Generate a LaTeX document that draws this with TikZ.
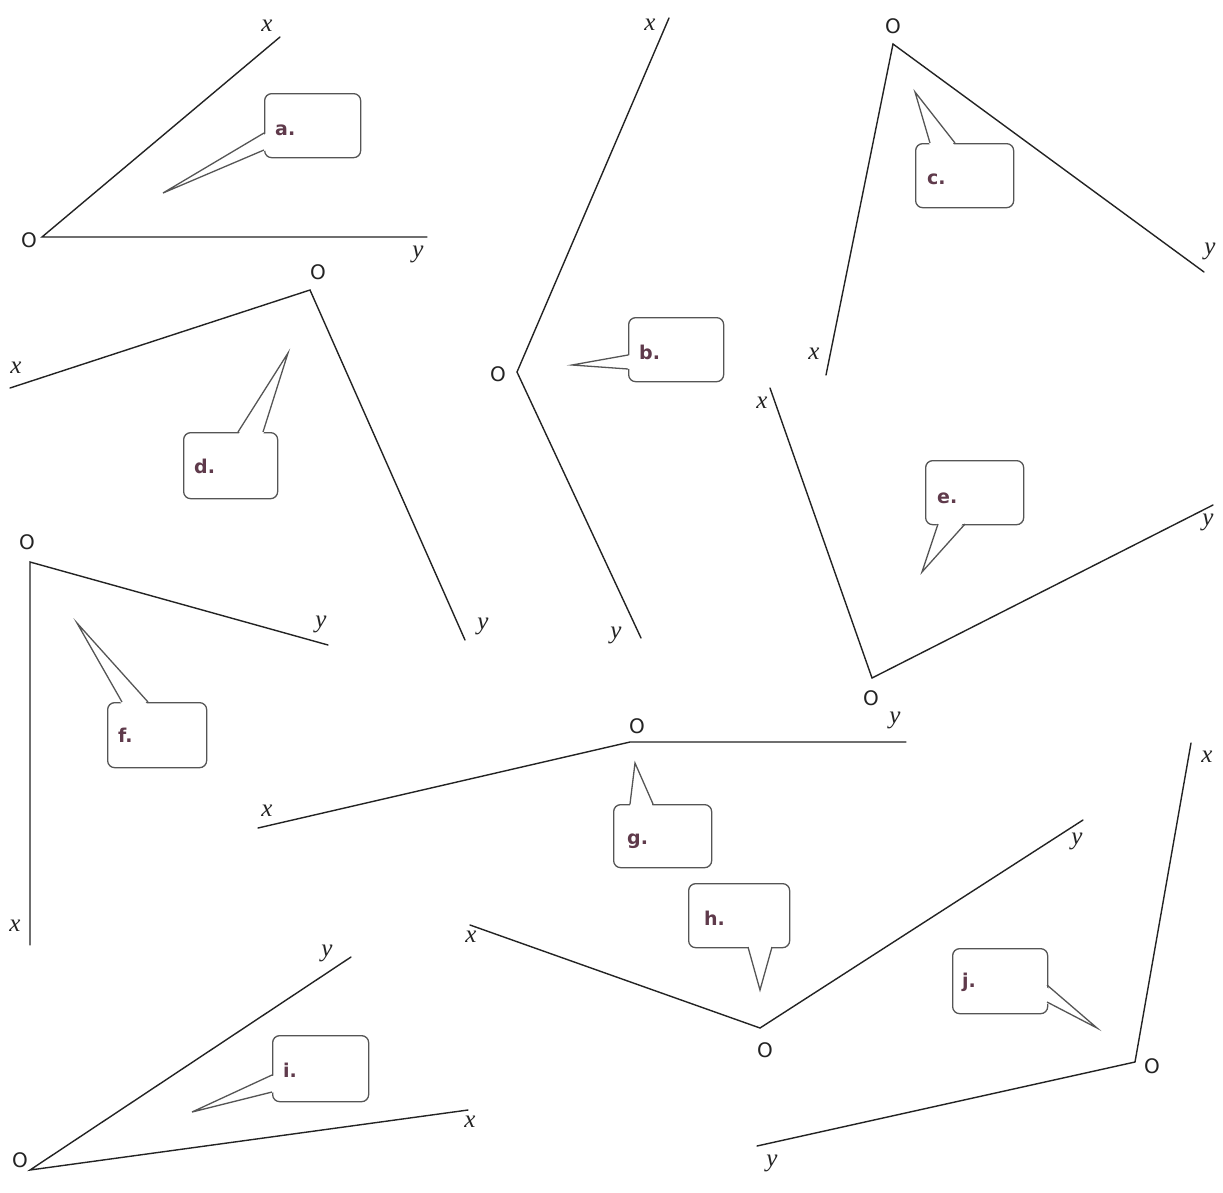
\documentclass[tikz,border=0pt]{standalone}
\usepackage{fontspec}
\setmainfont{Liberation Serif}
\newfontfamily\osans{DejaVu Sans}
\definecolor{lblcol}{RGB}{95,58,75}
\definecolor{raycol}{RGB}{35,35,35}
\definecolor{boxcol}{RGB}{85,85,85}
\tikzset{
  ray/.style={draw=raycol, line width=1.4pt, line cap=round},
  cbox/.style={draw=boxcol, line width=1.3pt, rounded corners=7pt, fill=white, inner sep=0pt, anchor=north west},
  ptr/.style={draw=boxcol, line width=1.3pt, line join=miter},
  olbl/.style={font=\osans\fontsize{20}{20}\selectfont, inner sep=0pt, text=raycol},
  vlbl/.style={font=\itshape\fontsize{25}{25}\selectfont, inner sep=0pt, text=raycol},
  clbl/.style={font=\osans\bfseries\fontsize{19}{19}\selectfont, text=lblcol, inner sep=0pt, anchor=base west}
}
\begin{document}
\begin{tikzpicture}[x=1pt,y=-1pt]
\useasboundingbox[fill=white] (0,0) rectangle (1223,1192);

% ---------- angles ----------
% a
\coordinate (va) at (42,237); \coordinate (xa) at (280,37); \coordinate (ya) at (427,237);
\draw[ray] (xa) -- (va) -- (ya);
\node[olbl] (Oa) at (29,240) {O};
\node[vlbl] (xla) at (267,26) {x};
\node[vlbl] (yla) at (418,254) {y};
% b
\coordinate (vb) at (517,372); \coordinate (xb) at (669,18); \coordinate (yb) at (641,638);
\draw[ray] (xb) -- (vb) -- (yb);
\node[olbl] (Ob) at (498,374) {O};
\node[vlbl] (xlb) at (650,25) {x};
\node[vlbl] (ylb) at (616,635) {y};
% c
\coordinate (vc) at (893,44); \coordinate (xc) at (826,375); \coordinate (yc) at (1204,272);
\draw[ray] (xc) -- (vc) -- (yc);
\node[olbl] (Oc) at (893,26) {O};
\node[vlbl] (xlc) at (814,354) {x};
\node[vlbl] (ylc) at (1210,251) {y};
% d
\coordinate (vd) at (310,290); \coordinate (xd) at (10,388); \coordinate (yd) at (465,640);
\draw[ray] (xd) -- (vd) -- (yd);
\node[olbl] (Od) at (318,272) {O};
\node[vlbl] (xld) at (16,368) {x};
\node[vlbl] (yld) at (483,626) {y};
% e
\coordinate (ve) at (872,678); \coordinate (xe) at (770,388); \coordinate (ye) at (1213,505);
\draw[ray] (xe) -- (ve) -- (ye);
\node[olbl] (Oe) at (871,698) {O};
\node[vlbl] (xle) at (762,403) {x};
\node[vlbl] (yle) at (1208,522) {y};
% f
\coordinate (vf) at (30,562); \coordinate (xf) at (30,945); \coordinate (yf) at (328,645);
\draw[ray] (xf) -- (vf) -- (yf);
\node[olbl] (Of) at (27,542) {O};
\node[vlbl] (xlf) at (15,926) {x};
\node[vlbl] (ylf) at (321,624) {y};
% g
\coordinate (vg) at (630,742); \coordinate (xg) at (258,828); \coordinate (yg) at (906,742);
\draw[ray] (xg) -- (vg) -- (yg);
\node[olbl] (Og) at (637,726) {O};
\node[vlbl] (xlg) at (267,811) {x};
\node[vlbl] (ylg) at (895,720) {y};
% h
\coordinate (vh) at (760,1028); \coordinate (xh) at (470,925); \coordinate (yh) at (1083,820);
\draw[ray] (xh) -- (vh) -- (yh);
\node[olbl] (Oh) at (765,1050) {O};
\node[vlbl] (xlh) at (471,937) {x};
\node[vlbl] (ylh) at (1077,841) {y};
% i
\coordinate (vi) at (30,1170); \coordinate (yi) at (351,957); \coordinate (xi) at (468,1110);
\draw[ray] (yi) -- (vi) -- (xi);
\node[olbl] (Oi) at (20,1160) {O};
\node[vlbl] (yli) at (327,953) {y};
\node[vlbl] (xli) at (470,1122) {x};
% j
\coordinate (vj) at (1135,1062); \coordinate (xj) at (1191,743); \coordinate (yj) at (757,1146);
\draw[ray] (xj) -- (vj) -- (yj);
\node[olbl] (Oj) at (1152,1066) {O};
\node[vlbl] (xlj) at (1207,757) {x};
\node[vlbl] (ylj) at (772,1163) {y};

% ---------- callouts ----------
% a
\node[cbox, minimum width=96pt, minimum height=64pt] (ba) at (264,93) {};
\coordinate (ta) at (163,193);
\fill[white] (267,133) -- (ta) -- (267,150) -- cycle;
\draw[ptr] (264,133) -- (ta) -- (264,150);
\node[clbl] (la) at (275,135) {a.};
% b
\node[cbox, minimum width=95pt, minimum height=64pt] (bb) at (628,317) {};
\coordinate (tb) at (572,365);
\fill[white] (631,355) -- (tb) -- (631,369) -- cycle;
\draw[ptr] (628,355) -- (tb) -- (628,369);
\node[clbl] (lb) at (639,359) {b.};
% c
\node[cbox, minimum width=98pt, minimum height=64pt] (bc) at (915,143) {};
\coordinate (tc) at (915,92);
\fill[white] (930,146) -- (tc) -- (955,146) -- cycle;
\draw[ptr] (930,143) -- (tc) -- (955,143);
\node[clbl] (lc) at (927,184) {c.};
% d
\node[cbox, minimum width=94pt, minimum height=66pt] (bd) at (183,432) {};
\coordinate (td) at (288,353);
\fill[white] (238,435) -- (td) -- (263,435) -- cycle;
\draw[ptr] (238,432) -- (td) -- (263,432);
\node[clbl] (ld) at (194,473) {d.};
% e
\node[cbox, minimum width=98pt, minimum height=64pt] (be) at (925,460) {};
\coordinate (te) at (922,572);
\fill[white] (938,521) -- (te) -- (965,521) -- cycle;
\draw[ptr] (938,524) -- (te) -- (965,524);
\node[clbl] (le) at (937,503) {e.};
% f
\node[cbox, minimum width=99pt, minimum height=65pt] (bf) at (107,702) {};
\coordinate (tf) at (77,623);
\fill[white] (122,705) -- (tf) -- (148,705) -- cycle;
\draw[ptr] (122,702) -- (tf) -- (148,702);
\node[clbl] (lf) at (118,742) {f.};
% g
\node[cbox, minimum width=98pt, minimum height=63pt] (bg) at (613,804) {};
\coordinate (tg) at (635,763);
\fill[white] (630,807) -- (tg) -- (653,807) -- cycle;
\draw[ptr] (630,804) -- (tg) -- (653,804);
\node[clbl] (lg) at (627,844) {g.};
% h
\node[cbox, minimum width=101pt, minimum height=64pt] (bh) at (688,883) {};
\coordinate (th) at (760,990);
\fill[white] (748,944) -- (th) -- (772,944) -- cycle;
\draw[ptr] (748,947) -- (th) -- (772,947);
\node[clbl] (lh) at (704,925) {h.};
% i
\node[cbox, minimum width=96pt, minimum height=66pt] (bi) at (272,1035) {};
\coordinate (ti) at (192,1112);
\fill[white] (275,1075) -- (ti) -- (275,1092) -- cycle;
\draw[ptr] (272,1075) -- (ti) -- (272,1092);
\node[clbl] (li) at (283,1077) {i.};
% j
\node[cbox, minimum width=95pt, minimum height=65pt] (bj) at (952,948) {};
\coordinate (tj) at (1097,1028);
\fill[white] (1044,985) -- (tj) -- (1044,1002) -- cycle;
\draw[ptr] (1047,985) -- (tj) -- (1047,1002);
\node[clbl] (lj) at (962,987) {j.};
\end{tikzpicture}
\end{document}
